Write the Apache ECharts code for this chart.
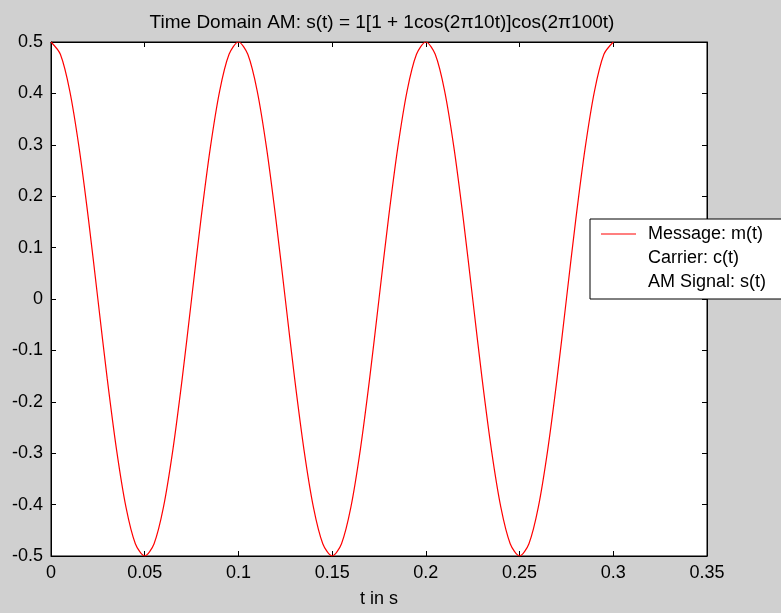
<!DOCTYPE html>
<html>
<head>
<meta charset="utf-8">
<script src="https://cdn.jsdelivr.net/npm/echarts@6/dist/echarts.min.js"></script>
<style>
html, body { margin: 0; padding: 0; background: #d0d0d0; }
#main { width: 781px; height: 613px; }
</style>
</head>
<body>
<div id="main"></div>
<script>
// 时间轴 (s) 与读取的信号值, 每 0.005 s 一个点
var tValues = [0, 0.005, 0.01, 0.015, 0.02, 0.025, 0.03, 0.035, 0.04, 0.045,
	0.05, 0.055, 0.06, 0.065, 0.07, 0.075, 0.08, 0.085, 0.09, 0.095,
	0.1, 0.105, 0.11, 0.115, 0.12, 0.125, 0.13, 0.135, 0.14, 0.145,
	0.15, 0.155, 0.16, 0.165, 0.17, 0.175, 0.18, 0.185, 0.19, 0.195,
	0.2, 0.205, 0.21, 0.215, 0.22, 0.225, 0.23, 0.235, 0.24, 0.245,
	0.25, 0.255, 0.26, 0.265, 0.27, 0.275, 0.28, 0.285, 0.29, 0.295, 0.3];
var messageValues = [0.5, 0.476, 0.405, 0.294, 0.155, 0, -0.155, -0.294, -0.405, -0.476,
	-0.5, -0.476, -0.405, -0.294, -0.155, 0, 0.155, 0.294, 0.405, 0.476,
	0.5, 0.476, 0.405, 0.294, 0.155, 0, -0.155, -0.294, -0.405, -0.476,
	-0.5, -0.476, -0.405, -0.294, -0.155, 0, 0.155, 0.294, 0.405, 0.476,
	0.5, 0.476, 0.405, 0.294, 0.155, 0, -0.155, -0.294, -0.405, -0.476,
	-0.5, -0.476, -0.405, -0.294, -0.155, 0, 0.155, 0.294, 0.405, 0.476, 0.5];
var legendNames = ['Message: m(t)', 'Carrier: c(t)', 'AM Signal: s(t)'];
var titleText = 'Time Domain AM: s(t) = 1[1 + 1cos(2\u03c010t)]cos(2\u03c0100t)';
var xLabel = 't in s';

var font = 'Liberation Sans';
var messageData = tValues.map(function (t, i) { return [t, messageValues[i]]; });

var myChart = echarts.init(document.getElementById('main'));
option = {
	backgroundColor: '#d0d0d0',
	animation: false,
	title: {
		text: titleText,
		left: 377,
		textAlign: 'center',
		top: 8,
		textStyle: { fontFamily: font, fontSize: 19, fontWeight: 'normal', color: '#000' }
	},
	legend: {
		orient: 'vertical',
		left: 590,
		top: 219,
		padding: [6, 30, 8, 10],
		itemWidth: 35,
		itemHeight: 14,
		itemGap: 6,
		backgroundColor: '#fff',
		borderColor: '#000',
		borderWidth: 1,
		borderRadius: 0,
		selectedMode: false,
		textStyle: { fontFamily: font, fontSize: 18, lineHeight: 18, color: '#000', padding: [0, 0, 0, 7] },
		data: [
			{ name: legendNames[0], lineStyle: { width: 1.2 }, itemStyle: { opacity: 0 } },
			{ name: legendNames[1], lineStyle: { opacity: 0 }, itemStyle: { opacity: 0 } },
			{ name: legendNames[2], lineStyle: { opacity: 0 }, itemStyle: { opacity: 0 } }
		]
	},
	grid: {
		left: 51, right: 74, top: 42, bottom: 53,
		show: true,
		backgroundColor: '#fff',
		borderColor: '#000',
		borderWidth: 1
	},
	xAxis: [
		{
			type: 'value', min: 0, max: 0.35, interval: 0.05,
			name: xLabel, nameLocation: 'middle', nameGap: 34,
			nameTextStyle: { fontFamily: font, fontSize: 18, color: '#000' },
			axisLine: { show: true, onZero: false, lineStyle: { color: '#000' } },
			axisTick: { inside: true, length: 5, lineStyle: { color: '#000' } },
			axisLabel: { fontFamily: font, fontSize: 18, color: '#000', margin: 8 },
			splitLine: { show: false }
		},
		{
			type: 'value', position: 'top', min: 0, max: 0.35, interval: 0.05,
			axisLine: { show: true, onZero: false, lineStyle: { color: '#000' } },
			axisTick: { inside: true, length: 5, lineStyle: { color: '#000' } },
			axisLabel: { show: false },
			splitLine: { show: false }
		}
	],
	yAxis: [
		{
			type: 'value', min: -0.5, max: 0.5, interval: 0.1,
			axisLine: { show: true, onZero: false, lineStyle: { color: '#000' } },
			axisTick: { inside: true, length: 5, lineStyle: { color: '#000' } },
			axisLabel: { fontFamily: font, fontSize: 18, color: '#000', margin: 8 },
			splitLine: { show: false }
		},
		{
			type: 'value', position: 'right', min: -0.5, max: 0.5, interval: 0.1,
			axisLine: { show: true, onZero: false, lineStyle: { color: '#000' } },
			axisTick: { inside: true, length: 5, lineStyle: { color: '#000' } },
			axisLabel: { show: false },
			splitLine: { show: false }
		}
	],
	series: [
		{
			name: legendNames[0],
			type: 'line',
			data: messageData,
			smooth: 0.3,
			symbol: 'none',
			lineStyle: { color: '#ff0000', width: 1.2 },
			itemStyle: { color: '#ff0000' }
		},
		{ name: legendNames[1], type: 'line', data: [], symbol: 'none', lineStyle: { color: '#0000ff', width: 1 } },
		{ name: legendNames[2], type: 'line', data: [], symbol: 'none', lineStyle: { color: '#008000', width: 1 } }
	]
};
myChart.setOption(option);
window.onresize = myChart.resize;
</script>
</body>
</html>
